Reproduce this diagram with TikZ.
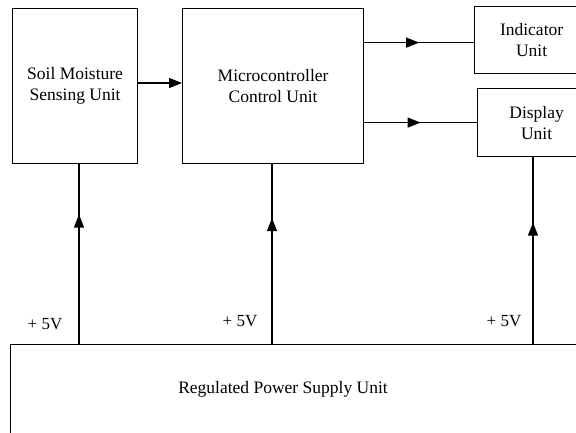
\documentclass[tikz,border=0pt]{standalone}
\usepackage{fontspec}
\setmainfont{Liberation Serif}
\usepackage{tikz}
\usetikzlibrary{arrows.meta}
\usetikzlibrary{decorations.markings}
\tikzset{
  blk/.style={draw=black, line width=1.2pt, inner sep=0pt, align=center,
              anchor=north west, font=\fontsize{17.5}{21}\selectfont},
  lbl/.style={inner sep=0pt, font=\fontsize{17}{20}\selectfont},
  wire/.style={draw=black, line width=1.2pt},
  midarrow/.style={wire, postaction={decorate},
                   decoration={markings, mark=at position #1 with
                   {\arrow{Triangle[length=13pt,width=10pt]}}}},
  midarrow/.default=0.5}

\begin{document}
\begin{tikzpicture}[x=1pt, y=-1pt]
  \useasboundingbox (0,0) rectangle (576,433);
  \clip (0,0) rectangle (576,433);
  % the unit boxes
  \node[blk, minimum width=125pt, minimum height=155pt] (soil) at (12,8) {Soil Moisture\\Sensing Unit};
  \node[blk, minimum width=181pt, minimum height=155pt] (micro) at (182,8) {Microcontroller\\Control Unit};
  \node[blk, minimum width=114pt, minimum height=67pt] (ind) at (474,6) {Indicator\\Unit};
  \node[blk, minimum width=118pt, minimum height=68pt] (disp) at (477,88) {Display\\Unit};
  \node[blk, minimum width=620pt, minimum height=120pt] (psu) at (10,344) {};
  \node[lbl, font=\fontsize{17.5}{21}\selectfont] (psuT) at (283,389) {Regulated Power Supply Unit};
  % signal lines
  \draw[wire, -{Triangle[length=13pt,width=10pt]}] (soil.east |- 0,83) -- (micro.west |- 0,83);
  \coordinate (c1) at ([yshift=-2.5pt]ind.west);
  \draw[midarrow] (c1 -| micro.east) -- (c1);
  \draw[midarrow] (micro.east |- disp.west) -- (disp.west);
  % +5V supply lines
  \coordinate (p1) at (79,344);
  \coordinate (p2) at (272,344);
  \coordinate (p3) at (533,344);
  \draw[midarrow=0.72] (p1) -- (p1 |- soil.south);
  \draw[midarrow=0.70] (p2) -- (p2 |- micro.south);
  \draw[midarrow=0.65] (p3) -- (p3 |- disp.south);
  \node[lbl] (v1) at (45,324) {+ 5V};
  \node[lbl] (v2) at (240,321) {+ 5V};
  \node[lbl] (v3) at (504,321) {+ 5V};
\end{tikzpicture}
\end{document}
